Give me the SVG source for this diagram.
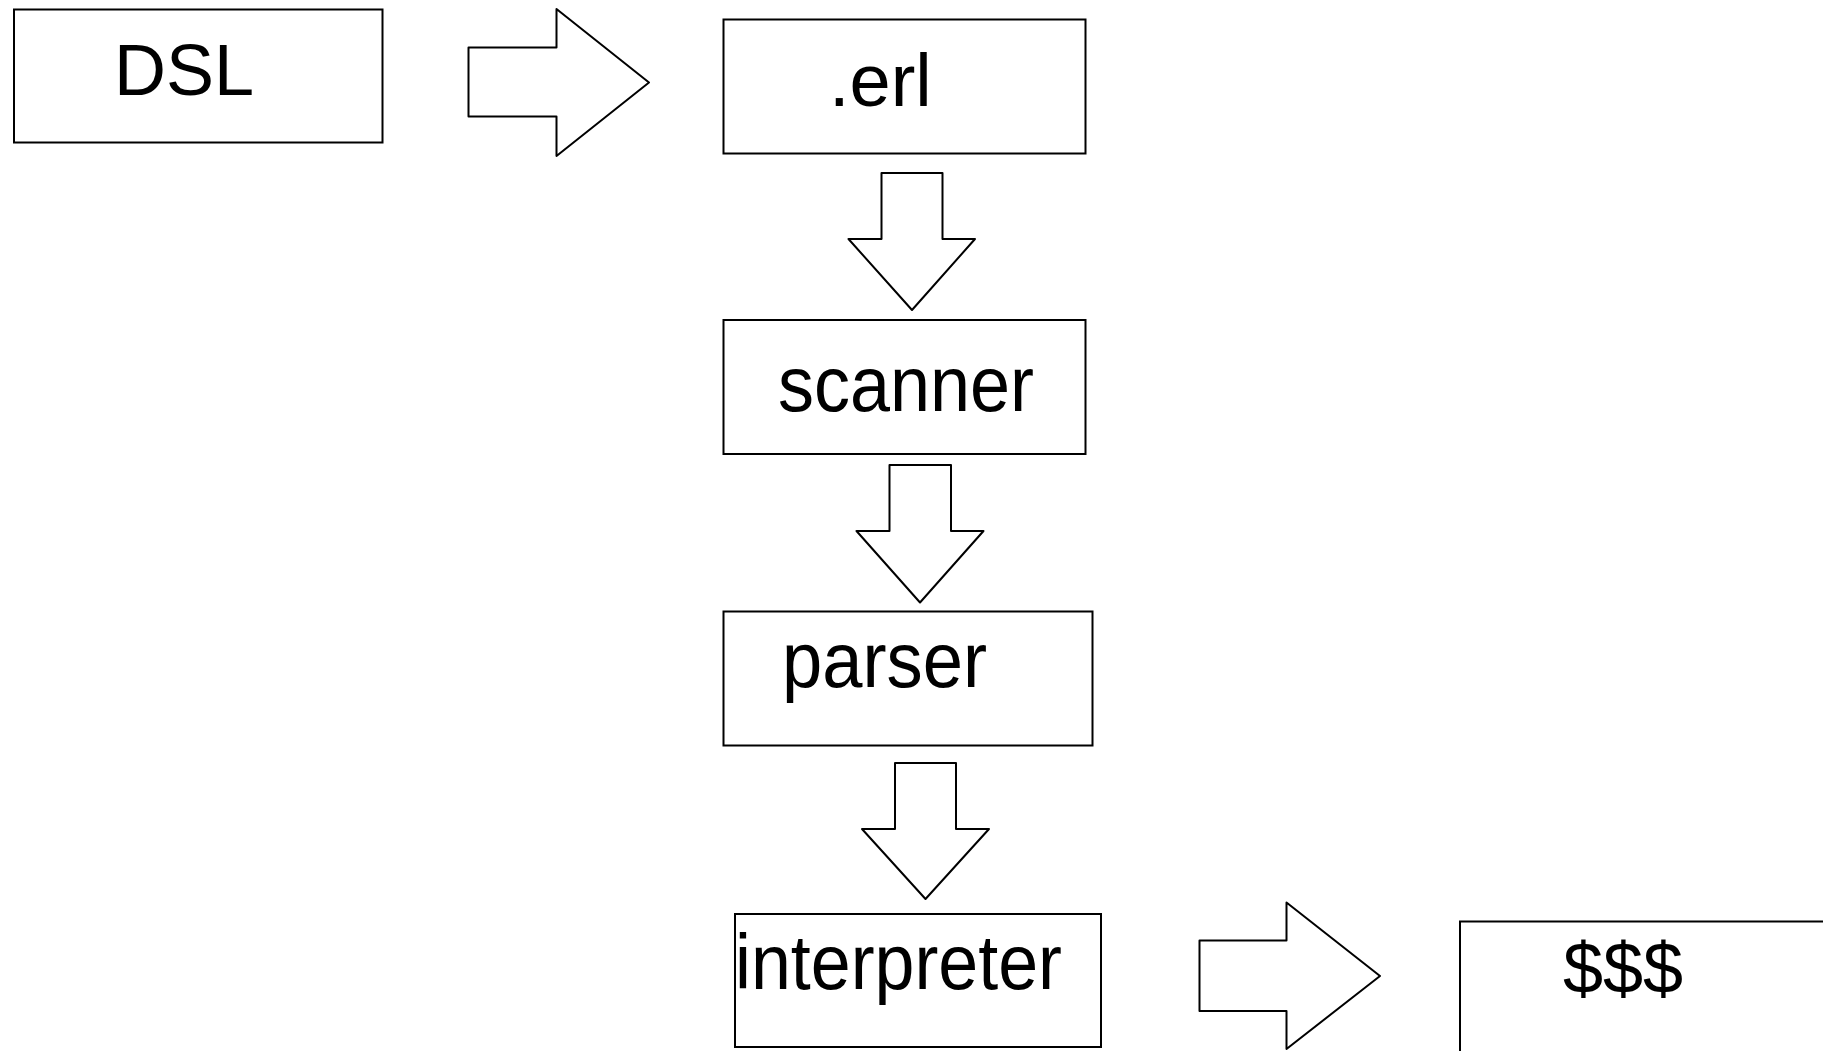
<svg xmlns="http://www.w3.org/2000/svg" width="1823" height="1051" viewBox="0 0 1823 1051">
<style>
.box{fill:#fff;stroke:#000;stroke-width:2}
.arr{fill:#fff;stroke:#000;stroke-width:2;stroke-linejoin:round}
.lbl{font-family:"Liberation Sans",Arial,sans-serif;fill:#000}
</style>
<rect width="1823" height="1051" fill="#fff"/>
<g id="node-dsl">
<rect class="box" x="14" y="9.5" width="368.5" height="133"/>
<text class="lbl" x="114" y="95" font-size="72">DSL</text>
</g>
<g id="node-erl">
<rect class="box" x="723.5" y="19.5" width="362" height="134"/>
<text class="lbl" x="829" y="106" font-size="74">.erl</text>
</g>
<g id="node-scanner">
<rect class="box" x="723.5" y="320" width="362" height="134"/>
<text class="lbl" x="778" y="411" font-size="77" textLength="256" lengthAdjust="spacingAndGlyphs">scanner</text>
</g>
<g id="node-parser">
<rect class="box" x="723.5" y="611.5" width="369" height="134"/>
<text class="lbl" x="782" y="687" font-size="77" textLength="205" lengthAdjust="spacingAndGlyphs">parser</text>
</g>
<g id="node-interpreter">
<rect class="box" x="735" y="914" width="366" height="133"/>
<text class="lbl" x="735" y="989" font-size="77" textLength="327" lengthAdjust="spacingAndGlyphs">interpreter</text>
</g>
<g id="node-money">
<rect class="box" x="1460" y="921.5" width="460" height="160"/>
<text class="lbl" x="1563" y="993" font-size="72">$$$</text>
</g>
<g id="connectors">
<path class="arr" d="M468.5,47.5 H556.5 V9 L649,82.5 L556.5,156 V116.5 H468.5 Z"/>
<path class="arr" d="M881.5,173 H942.5 V239 H975 L912,310 L848.5,239 H881.5 Z"/>
<path class="arr" d="M889.5,465 H951 V531 H983.5 L920,602.5 L856.5,531 H889.5 Z"/>
<path class="arr" d="M895,763 H956 V829 H989 L925.5,899 L862,829 H895 Z"/>
<path class="arr" d="M1199.5,940.5 H1286.5 V902.5 L1380,976 L1286.5,1049 V1011 H1199.5 Z"/>
</g>
</svg>
